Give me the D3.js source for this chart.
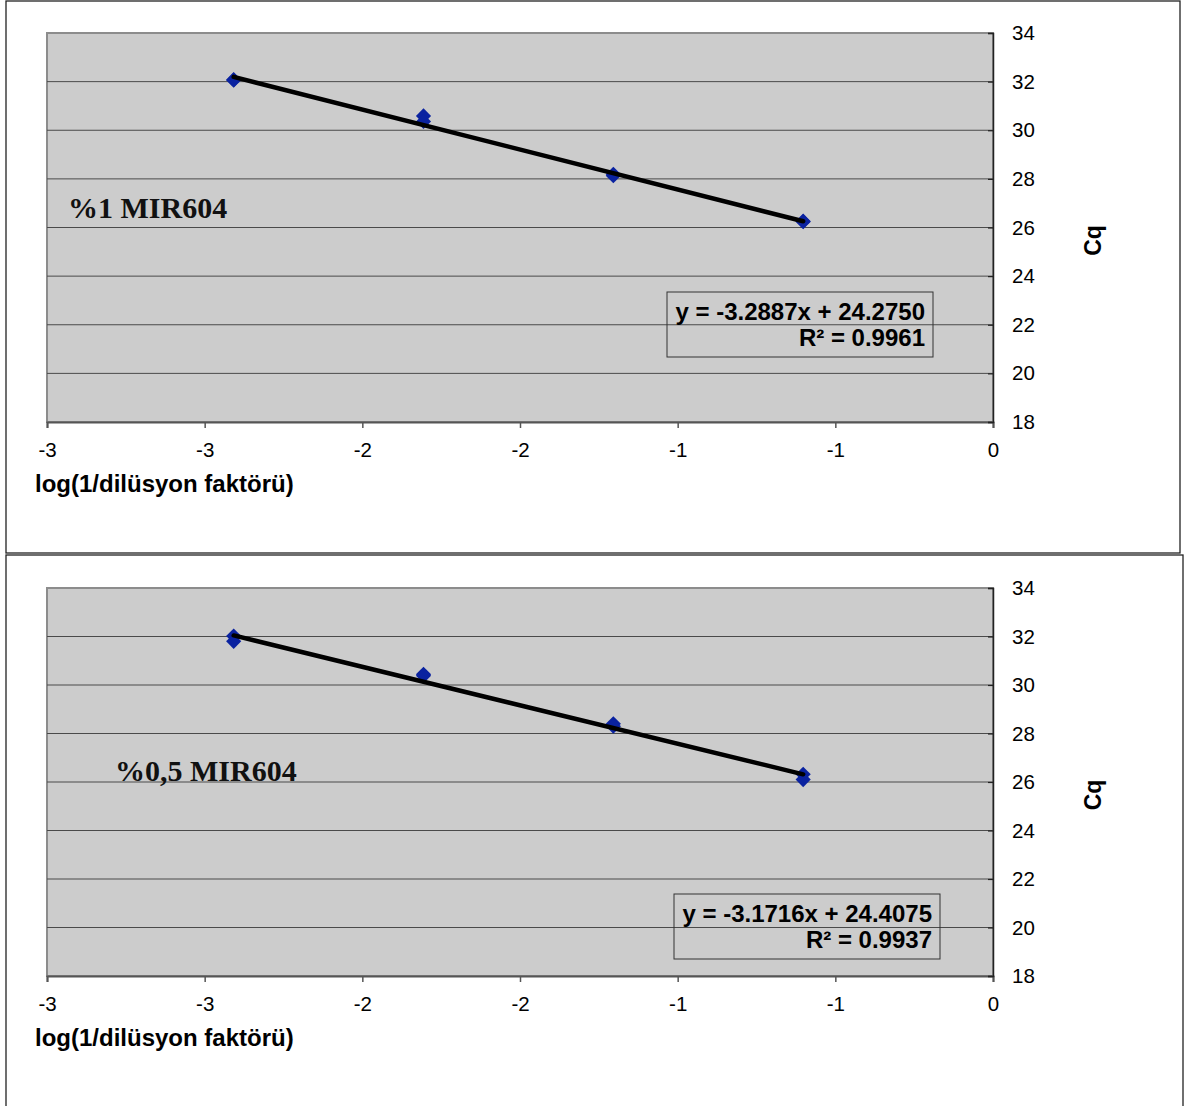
<!DOCTYPE html>
<html><head><meta charset="utf-8">
<script src="https://cdn.jsdelivr.net/npm/d3@7"></script>
<style>body{margin:0;background:#fff}svg{display:block}</style>
</head><body>
<svg id="c" width="1186" height="1106"></svg>
<script>
// ---- data ----
const xTickValues = [-3, -2.5, -2, -1.5, -1, -0.5, 0];
const xTickLabels = ["-3", "-3", "-2", "-2", "-1", "-1", "0"];
const yTickValues = [18, 20, 22, 24, 26, 28, 30, 32, 34];
const chartLabels = ["%1 MIR604", "%0,5 MIR604"];
const logDilution = [-2.408, -2.408, -1.806, -1.806, -1.204, -1.204, -0.602, -0.602];
const cq1 = [32.08, 32.06, 30.59, 30.36, 28.19, 28.13, 26.26, 26.24];
const cq2 = [32.02, 31.80, 30.44, 30.38, 28.40, 28.30, 26.32, 26.10];
const slopes = [-3.2887, -3.1716];
const intercepts = [24.2750, 24.4075];
const r2Values = ["0.9961", "0.9937"];
const xAxisTitle = "log(1/dilüsyon faktörü)";
const yAxisTitle = "Cq";

const svg = d3.select("#c");
const SANS = "Liberation Sans, Arial, sans-serif";

function drawChart(i, cq, box, plot, labelPos, eqBox) {
  const g = svg.append("g");
  g.append("rect").attr("x", box.x).attr("y", box.y).attr("width", box.w).attr("height", box.h)
    .attr("fill", "#fff").attr("stroke", "#222").attr("stroke-width", 1.3);

  const x = d3.scaleLinear().domain([-3, 0]).range([plot.l, plot.r]);
  const y = d3.scaleLinear().domain([18, 34]).range([plot.b, plot.t]);

  g.append("rect").attr("x", plot.l).attr("y", plot.t).attr("width", plot.r - plot.l).attr("height", plot.b - plot.t)
    .attr("fill", "#cccccc").attr("stroke", "#8c8c8c").attr("stroke-width", 2);

  // gridlines
  g.append("g").selectAll("line").data(yTickValues.filter(v => v > 18 && v < 34)).join("line")
    .attr("x1", plot.l).attr("x2", plot.r).attr("y1", d => y(d)).attr("y2", d => y(d))
    .attr("stroke", "#4a4a4a").attr("stroke-width", 1);

  // x axis
  const xa = g.append("g").attr("transform", `translate(0,${plot.b})`)
    .call(d3.axisBottom(x).tickValues(xTickValues).tickSize(6).tickPadding(14)
      .tickFormat((d, k) => xTickLabels[k]));
  xa.select(".domain").attr("stroke", "#555").attr("stroke-width", 2);
  xa.selectAll(".tick line").attr("stroke", "#555").attr("stroke-width", 1.5);
  xa.selectAll("text").attr("font-family", SANS).attr("font-size", 20.5).attr("fill", "#000");

  // y axis (right side, at x=0)
  const ya = g.append("g").attr("transform", `translate(${plot.r},0)`)
    .call(d3.axisLeft(y).tickValues(yTickValues).tickSize(5).tickFormat(d3.format("d")));
  ya.select(".domain").attr("stroke", "#222").attr("stroke-width", 1.5);
  ya.selectAll(".tick line").attr("stroke", "#222").attr("stroke-width", 1.2);
  ya.selectAll("text").attr("x", 19).attr("text-anchor", "start")
    .attr("font-family", SANS).attr("font-size", 20.5).attr("fill", "#000");

  // markers
  const sym = d3.symbol().type(d3.symbolSquare).size(115);
  g.append("g").selectAll("path").data(cq).join("path")
    .attr("d", sym)
    .attr("transform", (d, k) => `translate(${x(logDilution[k])},${y(d)}) rotate(45)`)
    .attr("fill", "#0a22a0");

  // trendline from regression
  const xmin = d3.min(logDilution), xmax = d3.max(logDilution);
  g.append("line")
    .attr("x1", x(xmin)).attr("y1", y(slopes[i] * xmin + intercepts[i]))
    .attr("x2", x(xmax)).attr("y2", y(slopes[i] * xmax + intercepts[i]))
    .attr("stroke", "#000").attr("stroke-width", 4.5).attr("stroke-linecap", "round");

  // series label
  g.append("text").attr("x", labelPos.x).attr("y", labelPos.y)
    .attr("font-family", "Liberation Serif, DejaVu Serif, serif").attr("font-weight", "bold")
    .attr("font-size", 30).attr("fill", "#111").text(chartLabels[i]);

  // equation box
  g.append("rect").attr("x", eqBox.x).attr("y", eqBox.y).attr("width", eqBox.w).attr("height", eqBox.h)
    .attr("fill", "none").attr("stroke", "#333").attr("stroke-width", 1);
  const eqText = `y = ${slopes[i].toFixed(4)}x + ${intercepts[i].toFixed(4)}`;
  g.append("text").attr("x", eqBox.x + eqBox.w - 8).attr("y", eqBox.y + 28)
    .attr("text-anchor", "end").attr("font-family", SANS)
    .attr("font-weight", "bold").attr("font-size", 24).text(eqText);
  g.append("text").attr("x", eqBox.x + eqBox.w - 8).attr("y", eqBox.y + 54)
    .attr("text-anchor", "end").attr("font-family", SANS)
    .attr("font-weight", "bold").attr("font-size", 24).text(`R² = ${r2Values[i]}`);

  // axis titles
  g.append("text").attr("x", 35).attr("y", plot.b + 70)
    .attr("font-family", SANS).attr("font-weight", "bold")
    .attr("font-size", 24).text(xAxisTitle);
  g.append("text").attr("transform", `translate(1101,${(plot.t + plot.b) / 2 + 13}) rotate(-90)`)
    .attr("text-anchor", "middle").attr("font-family", SANS)
    .attr("font-weight", "bold").attr("font-size", 23).text(yAxisTitle);
}

drawChart(0, cq1, {x: 6, y: 1, w: 1174, h: 552}, {l: 47, r: 993, t: 33, b: 422},
  {x: 68, y: 218}, {x: 667, y: 292, w: 266, h: 65});
drawChart(1, cq2, {x: 6, y: 555, w: 1177, h: 560}, {l: 47, r: 993, t: 588, b: 976},
  {x: 115, y: 781}, {x: 674, y: 894, w: 266, h: 65});
</script>
</body></html>
